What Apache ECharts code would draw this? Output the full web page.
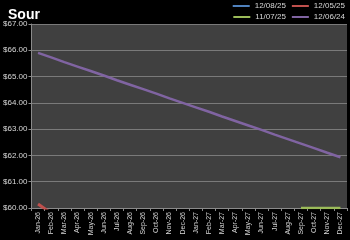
<!DOCTYPE html>
<html><head><meta charset="utf-8">
<script src="https://cdn.jsdelivr.net/npm/echarts@6/dist/echarts.min.js"></script>
<style>html,body{margin:0;padding:0;background:#000;}#c{width:350px;height:240px;}</style>
</head><body><div id="c"></div>
<script>
const categories = ['Jan-26','Feb-26','Mar-26','Apr-26','May-26','Jun-26','Jul-26','Aug-26','Sep-26','Oct-26','Nov-26','Dec-26','Jan-27','Feb-27','Mar-27','Apr-27','May-27','Jun-27','Jul-27','Aug-27','Sep-27','Oct-27','Nov-27','Dec-27'];
const s120825 = [null,null,null,null,null,null,null,null,null,null,null,null,null,null,null,null,null,null,null,null,null,null,null,null];
const s120525 = [60.15,59.8,null,null,null,null,null,null,null,null,null,null,null,null,null,null,null,null,null,null,null,null,null,null];
const s110725 = [null,null,null,null,null,null,null,null,null,null,null,null,null,null,null,null,null,null,null,null,60.0,60.0,60.0,60.0];
const s120624 = [65.90,65.73,65.55,65.38,65.21,65.04,64.86,64.69,64.52,64.35,64.17,64.00,63.83,63.66,63.48,63.31,63.14,62.97,62.79,62.62,62.45,62.28,62.10,61.93];
const yTicks = {min:60, max:67, interval:1};

const font = 'Liberation Sans';
const chart = echarts.init(document.getElementById('c'), null, {renderer:'canvas'});
const legendText = {color:'#d8d8d8', fontSize:8, fontFamily:font};
chart.setOption({
  backgroundColor:'#000',
  animation:false,
  title:{text:'Sour', left:3, top:3, textStyle:{color:'#fff', fontSize:14, fontWeight:'bold', fontFamily:font}},
  legend:[
    {data:['12/08/25','12/05/25'], right:5, top:2, width:200, itemWidth:17, itemHeight:2, itemGap:6, icon:'rect', textStyle:legendText, padding:0},
    {data:['11/07/25','12/06/24'], right:5, top:13, width:200, itemWidth:17, itemHeight:2, itemGap:6, icon:'rect', textStyle:legendText, padding:0}
  ],
  grid:{left:31, right:3, top:24, bottom:32, show:true, backgroundColor:'#404040', borderWidth:0},
  xAxis:{type:'category', data:categories, boundaryGap:true,
    axisLine:{show:true, lineStyle:{color:'#8a8a8a', width:1}},
    axisTick:{show:true, length:3, lineStyle:{color:'#8a8a8a'}},
    axisLabel:{color:'#d8d8d8', fontSize:7, fontFamily:font, rotate:90, interval:0, margin:4}},
  yAxis:{type:'value', min:yTicks.min, max:yTicks.max, interval:yTicks.interval,
    axisLine:{show:true, lineStyle:{color:'#8a8a8a'}},
    axisTick:{show:true, length:3, lineStyle:{color:'#8a8a8a'}},
    splitLine:{show:true, lineStyle:{color:'#7a7a7a', width:1}},
    axisLabel:{color:'#d8d8d8', fontSize:8, fontFamily:font, margin:4, formatter:v=>'$'+v.toFixed(2)}},
  series:[
    {name:'12/08/25', type:'line', data:s120825, symbol:'none', lineStyle:{color:'#4f81bd', width:2.5}, itemStyle:{color:'#4f81bd'}},
    {name:'12/05/25', type:'line', data:s120525, symbol:'none', lineStyle:{color:'#c0504d', width:3}, itemStyle:{color:'#c0504d'}},
    {name:'11/07/25', type:'line', data:s110725, symbol:'none', lineStyle:{color:'#9bbb59', width:2.5}, itemStyle:{color:'#9bbb59'}},
    {name:'12/06/24', type:'line', data:s120624, symbol:'none', lineStyle:{color:'#8064a2', width:2.5}, itemStyle:{color:'#8064a2'}}
  ]
});
</script></body></html>
